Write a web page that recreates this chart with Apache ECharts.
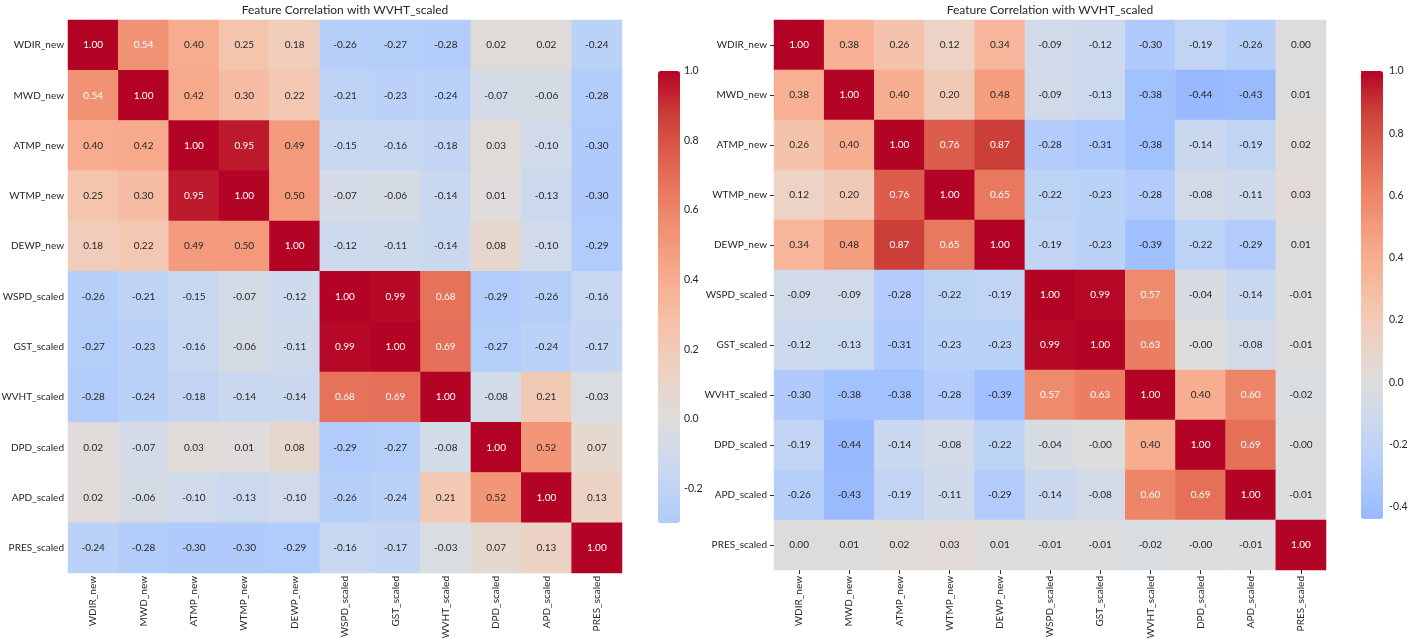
<!DOCTYPE html>
<html><head><meta charset="utf-8">
<script src="https://cdn.jsdelivr.net/npm/echarts@6/dist/echarts.min.js"></script>
<style>html,body{margin:0;padding:0;background:#fff}#c{width:1408px;height:640px}</style>
</head><body><div id="c"></div>
<script>
const features = ['WDIR_new','MWD_new','ATMP_new','WTMP_new','DEWP_new','WSPD_scaled','GST_scaled','WVHT_scaled','DPD_scaled','APD_scaled','PRES_scaled'];
const chartTitle = 'Feature Correlation with WVHT_scaled';

const corrLeft = [
  [1.00, 0.54, 0.40, 0.25, 0.18, -0.26, -0.27, -0.28, 0.02, 0.02, -0.24],
  [0.54, 1.00, 0.42, 0.30, 0.22, -0.21, -0.23, -0.24, -0.07, -0.06, -0.28],
  [0.40, 0.42, 1.00, 0.95, 0.49, -0.15, -0.16, -0.18, 0.03, -0.10, -0.30],
  [0.25, 0.30, 0.95, 1.00, 0.50, -0.07, -0.06, -0.14, 0.01, -0.13, -0.30],
  [0.18, 0.22, 0.49, 0.50, 1.00, -0.12, -0.11, -0.14, 0.08, -0.10, -0.29],
  [-0.26, -0.21, -0.15, -0.07, -0.12, 1.00, 0.99, 0.68, -0.29, -0.26, -0.16],
  [-0.27, -0.23, -0.16, -0.06, -0.11, 0.99, 1.00, 0.69, -0.27, -0.24, -0.17],
  [-0.28, -0.24, -0.18, -0.14, -0.14, 0.68, 0.69, 1.00, -0.08, 0.21, -0.03],
  [0.02, -0.07, 0.03, 0.01, 0.08, -0.29, -0.27, -0.08, 1.00, 0.52, 0.07],
  [0.02, -0.06, -0.10, -0.13, -0.10, -0.26, -0.24, 0.21, 0.52, 1.00, 0.13],
  [-0.24, -0.28, -0.30, -0.30, -0.29, -0.16, -0.17, -0.03, 0.07, 0.13, 1.00]
];

const corrRight = [
  [1.00, 0.38, 0.26, 0.12, 0.34, -0.09, -0.12, -0.30, -0.19, -0.26, 0.00],
  [0.38, 1.00, 0.40, 0.20, 0.48, -0.09, -0.13, -0.38, -0.44, -0.43, 0.01],
  [0.26, 0.40, 1.00, 0.76, 0.87, -0.28, -0.31, -0.38, -0.14, -0.19, 0.02],
  [0.12, 0.20, 0.76, 1.00, 0.65, -0.22, -0.23, -0.28, -0.08, -0.11, 0.03],
  [0.34, 0.48, 0.87, 0.65, 1.00, -0.19, -0.23, -0.39, -0.22, -0.29, 0.01],
  [-0.09, -0.09, -0.28, -0.22, -0.19, 1.00, 0.99, 0.57, -0.04, -0.14, -0.01],
  [-0.12, -0.13, -0.31, -0.23, -0.23, 0.99, 1.00, 0.63, -0.004, -0.08, -0.01],
  [-0.30, -0.38, -0.38, -0.28, -0.39, 0.57, 0.63, 1.00, 0.40, 0.60, -0.02],
  [-0.19, -0.44, -0.14, -0.08, -0.22, -0.04, -0.004, 0.40, 1.00, 0.69, -0.004],
  [-0.26, -0.43, -0.19, -0.11, -0.29, -0.14, -0.08, 0.60, 0.69, 1.00, -0.01],
  [0.00, 0.01, 0.02, 0.03, 0.01, -0.01, -0.01, -0.02, -0.004, -0.01, 1.00]
];

const rangeLeft = [-0.30, 1.0];
const rangeRight = [-0.44, 1.0];
const colorbarTicksLeft = [-0.2, 0.0, 0.2, 0.4, 0.6, 0.8, 1.0];
const colorbarTicksRight = [-0.4, -0.2, 0.0, 0.2, 0.4, 0.6, 0.8, 1.0];

// matplotlib "coolwarm" colormap control points
const coolwarmStops = [
  [59,76,192],[77,104,215],[98,130,234],[119,154,247],[141,176,254],[163,194,255],
  [184,208,249],[204,217,238],[221,221,221],[236,211,197],[245,196,173],[247,177,148],
  [244,154,123],[236,127,99],[222,96,77],[203,62,56],[180,4,38]
];
function coolwarm(t) {
  t = Math.max(0, Math.min(1, t));
  const n = coolwarmStops.length - 1;
  const p = t * n, i = Math.min(n - 1, Math.floor(p)), f = p - i;
  const a = coolwarmStops[i], b = coolwarmStops[i + 1];
  return [0,1,2].map(k => a[k] + (b[k] - a[k]) * f);
}
// seaborn-style centered at 0: value v maps to coolwarm((v+1)/2)
function colorFor(v) { return coolwarm((v + 1) / 2); }
function toHex(c) { return '#' + c.map(x => Math.round(x).toString(16).padStart(2, '0')).join(''); }
function rampColors(range) {
  const N = 65, out = [];
  for (let i = 0; i < N; i++) {
    const v = range[0] + (range[1] - range[0]) * i / (N - 1);
    out.push(toHex(colorFor(v)));
  }
  return out;
}
function lum(c) {
  const l = c.map(x => { x /= 255; return x <= 0.03928 ? x / 12.92 : Math.pow((x + 0.055) / 1.055, 2.4); });
  return 0.2126 * l[0] + 0.7152 * l[1] + 0.0722 * l[2];
}
function buildData(matrix) {
  const d = [];
  matrix.forEach((row, i) => row.forEach((v, j) => {
    d.push({ value: [j, i, v], label: { color: lum(colorFor(v)) > 0.408 ? '#262626' : '#ffffff' } });
  }));
  return d;
}

const FONT = 'Lato';
const txt = '#262626';

function heatAxes(gi, ticks) {
  return {
    x: {
      type: 'category', gridIndex: gi, data: features, position: 'bottom',
      axisLine: { show: false }, splitLine: { show: false },
      axisTick: { show: ticks, alignWithLabel: true, length: 4, lineStyle: { color: txt } },
      axisLabel: { rotate: 90, fontSize: 10, fontFamily: FONT, color: txt, margin: ticks ? 6 : 3, interval: 0 }
    },
    y: {
      type: 'category', gridIndex: gi, data: features, inverse: true,
      axisLine: { show: false }, splitLine: { show: false },
      axisTick: { show: ticks, alignWithLabel: true, length: 4, lineStyle: { color: txt } },
      axisLabel: { fontSize: 10, fontFamily: FONT, color: txt, margin: ticks ? 7 : 4, interval: 0 }
    }
  };
}
const ha0 = heatAxes(0, false), ha1 = heatAxes(1, true);

function cbAxis(gi, range, ticksArr, showTick) {
  return {
    type: 'value', gridIndex: gi, position: 'right', min: range[0], max: range[1],
    axisLine: { show: false }, splitLine: { show: false },
    axisTick: { show: showTick, length: 4, customValues: ticksArr, lineStyle: { color: txt } },
    axisLabel: { customValues: ticksArr, fontSize: 10.5, fontFamily: FONT, color: txt, margin: showTick ? 6 : 4,
      formatter: v => (Math.abs(v) < 1e-9 ? 0 : v).toFixed(1) }
  };
}

const heatLabel = { show: true, fontSize: 10, fontFamily: FONT, formatter: p => p.value[2].toFixed(2) };

const option = {
  backgroundColor: '#ffffff',
  animation: false,
  title: [
    { text: chartTitle, left: 345, top: 4, textAlign: 'center', padding: 0,
      textStyle: { fontSize: 12, fontWeight: 'normal', fontFamily: FONT, color: txt } },
    { text: chartTitle, left: 1050, top: 4, textAlign: 'center', padding: 0,
      textStyle: { fontSize: 12, fontWeight: 'normal', fontFamily: FONT, color: txt } }
  ],
  grid: [
    { left: 68, top: 20, width: 554, height: 553, outerBoundsMode: 'none', containLabel: false },
    { left: 774, top: 20, width: 552, height: 550, outerBoundsMode: 'none', containLabel: false },
    { left: 658, top: 71, width: 22, height: 452, outerBoundsMode: 'none', containLabel: false },
    { left: 1361, top: 71, width: 22, height: 448, outerBoundsMode: 'none', containLabel: false }
  ],
  xAxis: [ha0.x, ha1.x,
    { type: 'value', gridIndex: 2, show: false, min: 0, max: 1 },
    { type: 'value', gridIndex: 3, show: false, min: 0, max: 1 }],
  yAxis: [ha0.y, ha1.y,
    cbAxis(2, rangeLeft, colorbarTicksLeft, false),
    cbAxis(3, rangeRight, colorbarTicksRight, true)],
  visualMap: [
    { type: 'continuous', seriesIndex: 0, min: rangeLeft[0], max: rangeLeft[1], calculable: false,
      orient: 'vertical', left: 658, top: 71, itemWidth: 22, itemHeight: 452, padding: 0,
      hoverLink: false, inRange: { color: rampColors(rangeLeft) } },
    { type: 'continuous', seriesIndex: 1, min: rangeRight[0], max: rangeRight[1], calculable: false,
      orient: 'vertical', left: 1361, top: 71, itemWidth: 22, itemHeight: 448, padding: 0,
      hoverLink: false, inRange: { color: rampColors(rangeRight) } }
  ],
  series: [
    { type: 'heatmap', xAxisIndex: 0, yAxisIndex: 0, data: buildData(corrLeft), label: heatLabel,
      emphasis: { disabled: true }, itemStyle: { borderWidth: 0 } },
    { type: 'heatmap', xAxisIndex: 1, yAxisIndex: 1, data: buildData(corrRight), label: heatLabel,
      emphasis: { disabled: true }, itemStyle: { borderWidth: 0 } }
  ]
};

const chart = echarts.init(document.getElementById('c'), null, { renderer: 'canvas' });
chart.setOption(option);
</script>
</body></html>
